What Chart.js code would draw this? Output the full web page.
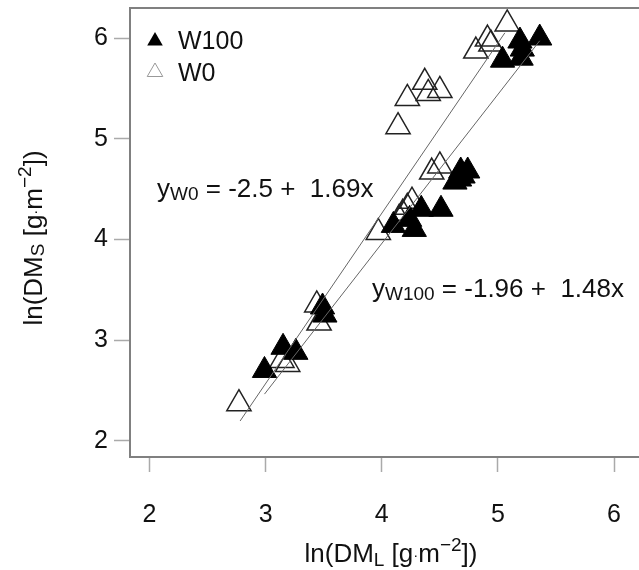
<!DOCTYPE html>
<html>
<head>
<meta charset="utf-8">
<script src="https://cdn.jsdelivr.net/npm/chart.js@4/dist/chart.umd.min.js"></script>
<style>
  body { margin: 0; background: #fff; }
  #wrap { width: 639px; height: 570px; }
</style>
</head>
<body>
<div id="wrap"><canvas id="myChart"></canvas></div>
<script>
// values
const w100X = [2.99, 3.15, 3.26, 3.49, 3.51, 4.10, 4.28, 4.34, 4.51, 4.24,
               4.63, 4.67, 4.68, 4.74, 4.70, 5.04, 5.20, 5.21, 5.19, 5.36];
const w100Y = [2.70, 2.93, 2.88, 3.33, 3.25, 4.14, 4.10, 4.30, 4.30, 4.20,
               4.57, 4.60, 4.68, 4.68, 4.63, 5.78, 5.80, 5.89, 5.97, 6.00];
const w0X = [2.77, 3.14, 3.19, 3.44, 3.46, 3.97, 4.26, 4.22, 4.18, 4.15,
             4.43, 4.50, 4.37, 4.50, 4.40, 4.22, 4.14, 5.08, 4.91, 4.94, 4.81];
const w0Y = [2.37, 2.80, 2.76, 3.35, 3.17, 4.07, 4.38, 4.32, 4.26, 4.21,
             4.67, 4.73, 5.56, 5.48, 5.45, 5.40, 5.12, 6.14, 5.99, 5.94, 5.87];

// fitted lines: intercept, slope, x range
const fitW0 = [-2.5, 1.69];
const fitW0Range = [2.78, 5.06];
const fitW100 = [-1.96, 1.48];
const fitW100Range = [2.99, 5.36];

const xTicks = [2, 3, 4, 5, 6];
const yTicks = [2, 3, 4, 5, 6];

const FONT = '"Liberation Sans", Arial, sans-serif';

function toPoints(xs, ys) {
    return xs.map((x, i) => ({ x: x, y: ys[i] }));
}
function fitLine(coef, range) {
    return range.map((x) => ({ x: x, y: coef[0] + coef[1] * x }));
}

// draws text made of pieces with own size / vertical shift
function drawRich(ctx, parts, x, y, align) {
    let total = 0;
    parts.forEach((p) => {
        ctx.font = p.size + "px " + FONT;
        p.w = ctx.measureText(p.t).width;
        total += p.w;
    });
    let cx = align === "center" ? x - total / 2 : x;
    parts.forEach((p) => {
        ctx.font = p.size + "px " + FONT;
        ctx.fillText(p.t, cx, y + (p.dy || 0));
        cx += p.w;
    });
}

function triangle(ctx, x, y, r) {
    ctx.beginPath();
    let rad = 0;
    ctx.moveTo(x + Math.sin(rad) * r, y - Math.cos(rad) * r);
    rad += Math.PI * 2 / 3;
    ctx.lineTo(x + Math.sin(rad) * r, y - Math.cos(rad) * r);
    rad += Math.PI * 2 / 3;
    ctx.lineTo(x + Math.sin(rad) * r, y - Math.cos(rad) * r);
    ctx.closePath();
}

const extras = {
    id: "extras",
    afterDraw(chart) {
        const ctx = chart.ctx;
        const a = chart.chartArea;
        ctx.save();
        // top of the box
        ctx.strokeStyle = "#808080";
        ctx.lineWidth = 2;
        ctx.beginPath();
        ctx.moveTo(a.left, a.top);
        ctx.lineTo(a.right, a.top);
        ctx.stroke();

        ctx.fillStyle = "#111";
        ctx.textBaseline = "alphabetic";
        ctx.textAlign = "left";

        // legend
        triangle(ctx, 155, 41, 9);
        ctx.fillStyle = "#000";
        ctx.fill();
        triangle(ctx, 155, 72, 9);
        ctx.strokeStyle = "#999";
        ctx.lineWidth = 1;
        ctx.stroke();
        ctx.fillStyle = "#111";
        drawRich(ctx, [{ t: "W100", size: 25 }], 178, 49, "left");
        drawRich(ctx, [{ t: "W0", size: 25 }], 178, 81, "left");

        // equations
        drawRich(ctx, [
            { t: "y", size: 26 },
            { t: "W0", size: 19, dy: 3 },
            { t: " = -2.5 +  1.69x", size: 26 }
        ], 157, 197, "left");
        drawRich(ctx, [
            { t: "y", size: 26 },
            { t: "W100", size: 19, dy: 3 },
            { t: " = -1.96 +  1.48x", size: 26 }
        ], 372, 297, "left");

        // axis titles
        drawRich(ctx, [
            { t: "ln(DM", size: 26 },
            { t: "L", size: 19, dy: 4 },
            { t: " [g", size: 26 },
            { t: "·", size: 15, dy: -2 },
            { t: "m", size: 26 },
            { t: "\u22122", size: 19, dy: -11 },
            { t: "])", size: 26 }
        ], 391, 562, "center");

        ctx.translate(42, 238);
        ctx.rotate(-Math.PI / 2);
        drawRich(ctx, [
            { t: "ln(DM", size: 26 },
            { t: "S", size: 19, dy: 2 },
            { t: " [g", size: 26 },
            { t: "·", size: 15, dy: -2 },
            { t: "m", size: 26 },
            { t: "\u22122", size: 19, dy: -11 },
            { t: "])", size: 26 }
        ], 0, 0, "center");
        ctx.restore();
    }
};

const ctx = document.getElementById("myChart");
new Chart(ctx, {
    type: "scatter",
    data: {
        datasets: [
            {
                type: "line",
                label: "fit W0",
                data: fitLine(fitW0, fitW0Range),
                borderColor: "#666",
                borderWidth: 1,
                pointRadius: 0,
                fill: false,
                order: 0,
            },
            {
                type: "line",
                label: "fit W100",
                data: fitLine(fitW100, fitW100Range),
                borderColor: "#666",
                borderWidth: 1,
                pointRadius: 0,
                fill: false,
                order: 0,
            },
            {
                label: "W100",
                data: toPoints(w100X, w100Y),
                pointStyle: "triangle",
                pointRadius: 14,
                backgroundColor: "#000",
                borderColor: "#000",
                borderWidth: 1,
                order: 1,
            },
            {
                label: "W0",
                data: toPoints(w0X, w0Y),
                pointStyle: "triangle",
                pointRadius: 14,
                backgroundColor: "rgba(0,0,0,0)",
                borderColor: "#222",
                borderWidth: 1.5,
                order: 2,
            },
        ],
    },
    options: {
        responsive: true,
        maintainAspectRatio: false,
        animation: false,
        layout: { autoPadding: false, padding: { top: 8, left: 0, right: 0, bottom: 0 } },
        plugins: {
            legend: { display: false },
            tooltip: { enabled: false },
        },
        scales: {
            x: {
                type: "linear",
                min: 1.832,
                max: 6.215,
                afterFit: (axis) => {
                    axis.height = 113;
                    axis.paddingLeft = 0;
                    axis.paddingRight = 0;
                },
                afterBuildTicks: (axis) => { axis.ticks = xTicks.map((v) => ({ value: v })); },
                grid: {
                    drawOnChartArea: false,
                    tickLength: 15,
                    tickColor: "#aaa",
                    tickWidth: 1.5,
                },
                border: { color: "#808080", width: 2 },
                ticks: {
                    padding: 28,
                    color: "#111",
                    font: { family: FONT, size: 25 },
                    maxRotation: 0,
                },
            },
            y: {
                type: "linear",
                min: 1.841,
                max: 6.298,
                afterFit: (axis) => {
                    axis.width = 130;
                    axis.paddingTop = 0;
                    axis.paddingBottom = 0;
                },
                afterBuildTicks: (axis) => { axis.ticks = yTicks.map((v) => ({ value: v })); },
                grid: {
                    drawOnChartArea: false,
                    tickLength: 16,
                    tickColor: "#aaa",
                    tickWidth: 1.5,
                },
                border: { color: "#808080", width: 2 },
                ticks: {
                    padding: 6,
                    color: "#111",
                    font: { family: FONT, size: 25 },
                },
            },
        },
    },
    plugins: [extras],
});
</script>
</body>
</html>
